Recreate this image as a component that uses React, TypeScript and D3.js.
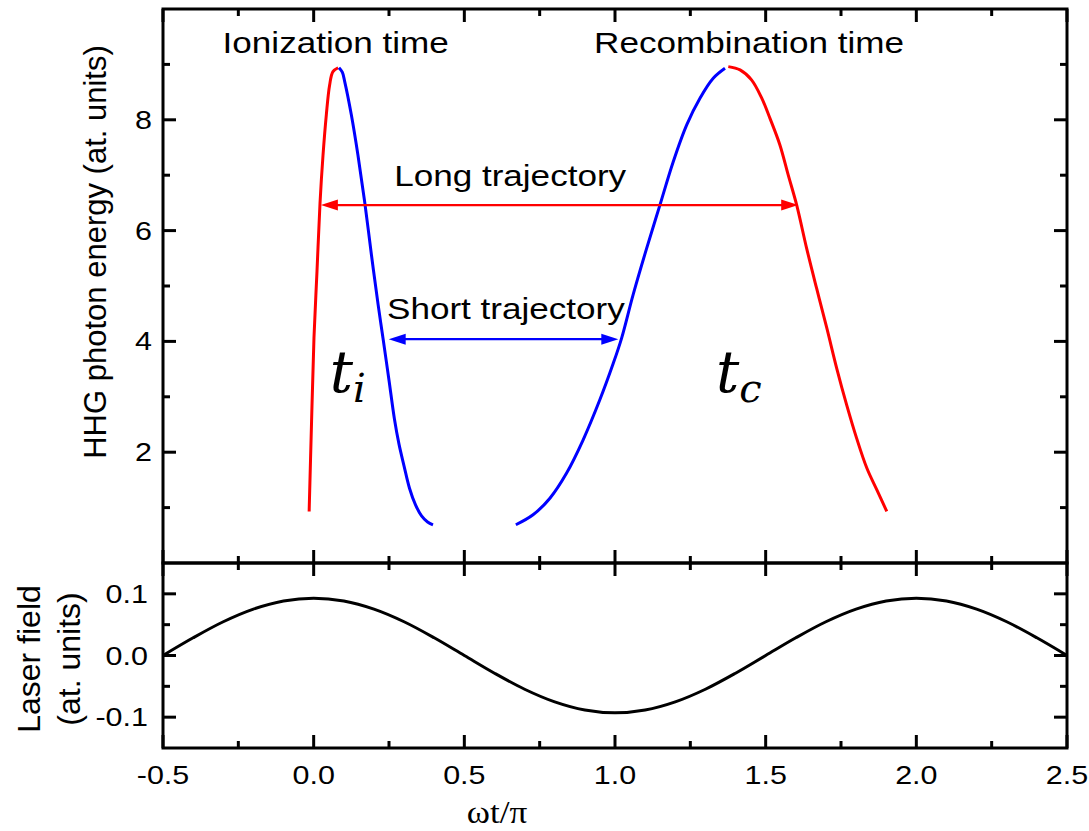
import React from "react";
import * as d3 from "d3";

// ---------- data ----------
const redIonX = [-0.015, -0.007, 0.001, 0.011, 0.021, 0.031, 0.042, 0.053, 0.064, 0.081];
const redIonY = [0.93, 2.55, 4.06, 5.26, 6.49, 7.36, 8.09, 8.63, 8.87, 8.94];

const blueIonX = [0.084, 0.095, 0.103, 0.125, 0.147, 0.170, 0.192, 0.214, 0.230, 0.250, 0.268, 0.283, 0.300, 0.318, 0.338, 0.358, 0.378, 0.396];
const blueIonY = [8.94, 8.86, 8.69, 8.09, 7.36, 6.49, 5.55, 4.66, 4.06, 3.30, 2.60, 2.15, 1.75, 1.35, 1.05, 0.85, 0.74, 0.69];

const blueRecX = [0.671, 0.728, 0.784, 0.839, 0.894, 0.950, 0.994, 1.022, 1.060, 1.105, 1.149, 1.193, 1.238, 1.282, 1.326, 1.365];
const blueRecY = [0.69, 0.87, 1.17, 1.62, 2.22, 2.95, 3.60, 4.06, 4.84, 5.68, 6.46, 7.24, 7.91, 8.39, 8.75, 8.93];

const redRecX = [1.376, 1.415, 1.453, 1.487, 1.514, 1.547, 1.575, 1.603, 1.636, 1.669, 1.703, 1.736, 1.769, 1.802, 1.836, 1.869, 1.902];
const redRecY = [8.96, 8.90, 8.72, 8.39, 8.03, 7.55, 7.00, 6.46, 5.68, 4.96, 4.24, 3.51, 2.85, 2.25, 1.71, 1.32, 0.93];

const laserX = [-0.5, -0.4, -0.3, -0.2, -0.1, 0.0, 0.1, 0.2, 0.3, 0.4, 0.5, 0.6, 0.7, 0.8, 0.9, 1.0, 1.1, 1.2, 1.3, 1.4, 1.5, 1.6, 1.7, 1.8, 1.9, 2.0, 2.1, 2.2, 2.3, 2.4, 2.5];
const laserY = [0, 0.0287, 0.0547, 0.0752, 0.0884, 0.093, 0.0884, 0.0752, 0.0547, 0.0287, 0, -0.0287, -0.0547, -0.0752, -0.0884, -0.093, -0.0884, -0.0752, -0.0547, -0.0287, 0, 0.0287, 0.0547, 0.0752, 0.0884, 0.093, 0.0884, 0.0752, 0.0547, 0.0287, 0];

const xTicks = [-0.5, 0, 0.5, 1, 1.5, 2, 2.5];
const xTickLabels = ["-0.5", "0.0", "0.5", "1.0", "1.5", "2.0", "2.5"];
const xMinorTicks = [-0.25, 0.25, 0.75, 1.25, 1.75, 2.25];
const yTopTicks = [2, 4, 6, 8];
const yTopTickLabels = ["2", "4", "6", "8"];
const yTopMinorTicks = [1, 3, 5, 7, 9];
const yBotTicks = [-0.1, 0, 0.1];
const yBotTickLabels = ["-0.1", "0.0", "0.1"];
const yBotMinorTicks = [-0.05, 0.05];

// arrows
const longArrow = { y: 6.46, x0: 0.024, x1: 1.608 };
const shortArrow = { y: 4.04, x0: 0.249, x1: 1.011 };

// text annotations in data coordinates
const annotations = [
  { text: "Ionization time", x: 0.073, y: 9.21 },
  { text: "Recombination time", x: 1.445, y: 9.21 },
  { text: "Long trajectory", x: 0.652, y: 6.8 },
  { text: "Short trajectory", x: 0.638, y: 4.4 },
];
const timeLabels = [
  { main: "t", sub: "i", x: 0.053, y: 3.09 },
  { main: "t", sub: "c", x: 1.335, y: 3.09 },
];

// ---------- layout ----------
const W = 1089, H = 831;
const L = 163, R = 1067, T = 9, MID = 563, B = 748;
const SANS = "'Liberation Sans', Arial, sans-serif";
const SX = 1.17;

const x = d3.scaleLinear().domain([-0.5, 2.5]).range([L, R]);
const yTop = d3.scaleLinear().domain([0, 10]).range([MID, T]);
const yBot = d3.scaleLinear().domain([-0.15, 0.15]).range([B, MID]);

const zip = (xs: number[], ys: number[]) => xs.map((v, i) => [v, ys[i]] as [number, number]);

const topLine = d3.line<[number, number]>().x((d) => x(d[0])).y((d) => yTop(d[1])).curve(d3.curveCatmullRom.alpha(0.5));
const botLine = d3.line<[number, number]>().x((d) => x(d[0])).y((d) => yBot(d[1])).curve(d3.curveCatmullRom.alpha(0.5));

const MAJ = 13, MIN = 7;

function Arrow({ y, x0, x1, color }: { y: number; x0: number; x1: number; color: string }) {
  const py = yTop(y);
  const a = x(x0), b = x(x1);
  const len = 17, hw = 5.5;
  return (
    <g>
      <line x1={a + len - 1} x2={b - len + 1} y1={py} y2={py} stroke={color} strokeWidth={2.2} />
      <path d={`M${a},${py}L${a + len},${py - hw}L${a + len},${py + hw}Z`} fill={color} />
      <path d={`M${b},${py}L${b - len},${py - hw}L${b - len},${py + hw}Z`} fill={color} />
    </g>
  );
}

function SText({ x: tx, y: ty, children, size, anchor = "middle", sx = SX, family = SANS }: any) {
  return (
    <text transform={`translate(${tx},${ty}) scale(${sx},1)`} textAnchor={anchor} fontSize={size} fontFamily={family} fill="#000">
      {children}
    </text>
  );
}

export default function App() {
  return (
    <svg width={W} height={H} style={{ position: "absolute", left: 0, top: 0, background: "#fff" }}>
      <rect x={0} y={0} width={W} height={H} fill="#fff" />
      {/* curves */}
      <path d={topLine(zip(redIonX, redIonY)) || ""} fill="none" stroke="#ff0000" strokeWidth={3} />
      <path d={topLine(zip(blueIonX, blueIonY)) || ""} fill="none" stroke="#0000ff" strokeWidth={3} />
      <path d={topLine(zip(blueRecX, blueRecY)) || ""} fill="none" stroke="#0000ff" strokeWidth={3} />
      <path d={topLine(zip(redRecX, redRecY)) || ""} fill="none" stroke="#ff0000" strokeWidth={3} />
      <path d={botLine(zip(laserX, laserY)) || ""} fill="none" stroke="#000" strokeWidth={3} />

      <Arrow {...longArrow} color="#ff0000" />
      <Arrow {...shortArrow} color="#0000ff" />

      {/* frames */}
      <rect x={L} y={T} width={R - L} height={MID - T} fill="none" stroke="#000" strokeWidth={3} />
      <rect x={L} y={MID} width={R - L} height={B - MID} fill="none" stroke="#000" strokeWidth={3} />

      {/* x ticks on all four horizontal edges */}
      {[T, MID, MID, B].map((ey, k) => {
        const dir = k === 0 || k === 2 ? 1 : -1;
        return (
          <g key={k}>
            {xTicks.map((t) => (
              <line key={"M" + t} x1={x(t)} x2={x(t)} y1={ey} y2={ey + dir * MAJ} stroke="#000" strokeWidth={3} />
            ))}
            {xMinorTicks.map((t) => (
              <line key={"m" + t} x1={x(t)} x2={x(t)} y1={ey} y2={ey + dir * MIN} stroke="#000" strokeWidth={3} />
            ))}
          </g>
        );
      })}
      {/* y ticks */}
      {[L, R].map((ex, k) => {
        const dir = k === 0 ? 1 : -1;
        return (
          <g key={"yt" + k}>
            {yTopTicks.map((t) => (
              <line key={"M" + t} x1={ex} x2={ex + dir * MAJ} y1={yTop(t)} y2={yTop(t)} stroke="#000" strokeWidth={3} />
            ))}
            {yTopMinorTicks.map((t) => (
              <line key={"m" + t} x1={ex} x2={ex + dir * MIN} y1={yTop(t)} y2={yTop(t)} stroke="#000" strokeWidth={3} />
            ))}
            {yBotTicks.map((t) => (
              <line key={"bM" + t} x1={ex} x2={ex + dir * MAJ} y1={yBot(t)} y2={yBot(t)} stroke="#000" strokeWidth={3} />
            ))}
            {yBotMinorTicks.map((t) => (
              <line key={"bm" + t} x1={ex} x2={ex + dir * MIN} y1={yBot(t)} y2={yBot(t)} stroke="#000" strokeWidth={3} />
            ))}
          </g>
        );
      })}

      {/* tick labels */}
      {xTicks.map((t, i) => (
        <SText key={"xl" + t} x={x(t)} y={784} size={25} sx={1.22}>{xTickLabels[i]}</SText>
      ))}
      {yTopTicks.map((t, i) => (
        <SText key={"ytl" + t} x={152} y={yTop(t) + 9} size={25} sx={1.22} anchor="end">{yTopTickLabels[i]}</SText>
      ))}
      {yBotTicks.map((t, i) => (
        <SText key={"ybl" + t} x={148} y={yBot(t) + 9} size={25} sx={1.22} anchor="end">{yBotTickLabels[i]}</SText>
      ))}

      {/* axis titles */}
      <text transform={`translate(106,252) rotate(-90)`} textAnchor="middle" fontSize={31} fontFamily={SANS}>HHG photon energy (at. units)</text>
      <text transform={`translate(40,659) rotate(-90)`} textAnchor="middle" fontSize={32} fontFamily={SANS}>Laser field</text>
      <text transform={`translate(80,659) rotate(-90)`} textAnchor="middle" fontSize={32} fontFamily={SANS}>(at. units)</text>
      <SText x={497} y={823} size={32} sx={1.1} family="'Liberation Serif', 'Times New Roman', serif">ωt/π</SText>

      {/* annotations */}
      {annotations.map((a) => (
        <SText key={a.text} x={x(a.x)} y={yTop(a.y)} size={30}>{a.text}</SText>
      ))}
      {timeLabels.map((t) => (
        <text key={t.sub} x={x(t.x)} y={yTop(t.y)} fontFamily="'DejaVu Serif', serif" fontStyle="italic" fill="#000">
          <tspan fontSize={58}>{t.main}</tspan>
          <tspan fontSize={40} dy={10}>{t.sub}</tspan>
        </text>
      ))}
    </svg>
  );
}
